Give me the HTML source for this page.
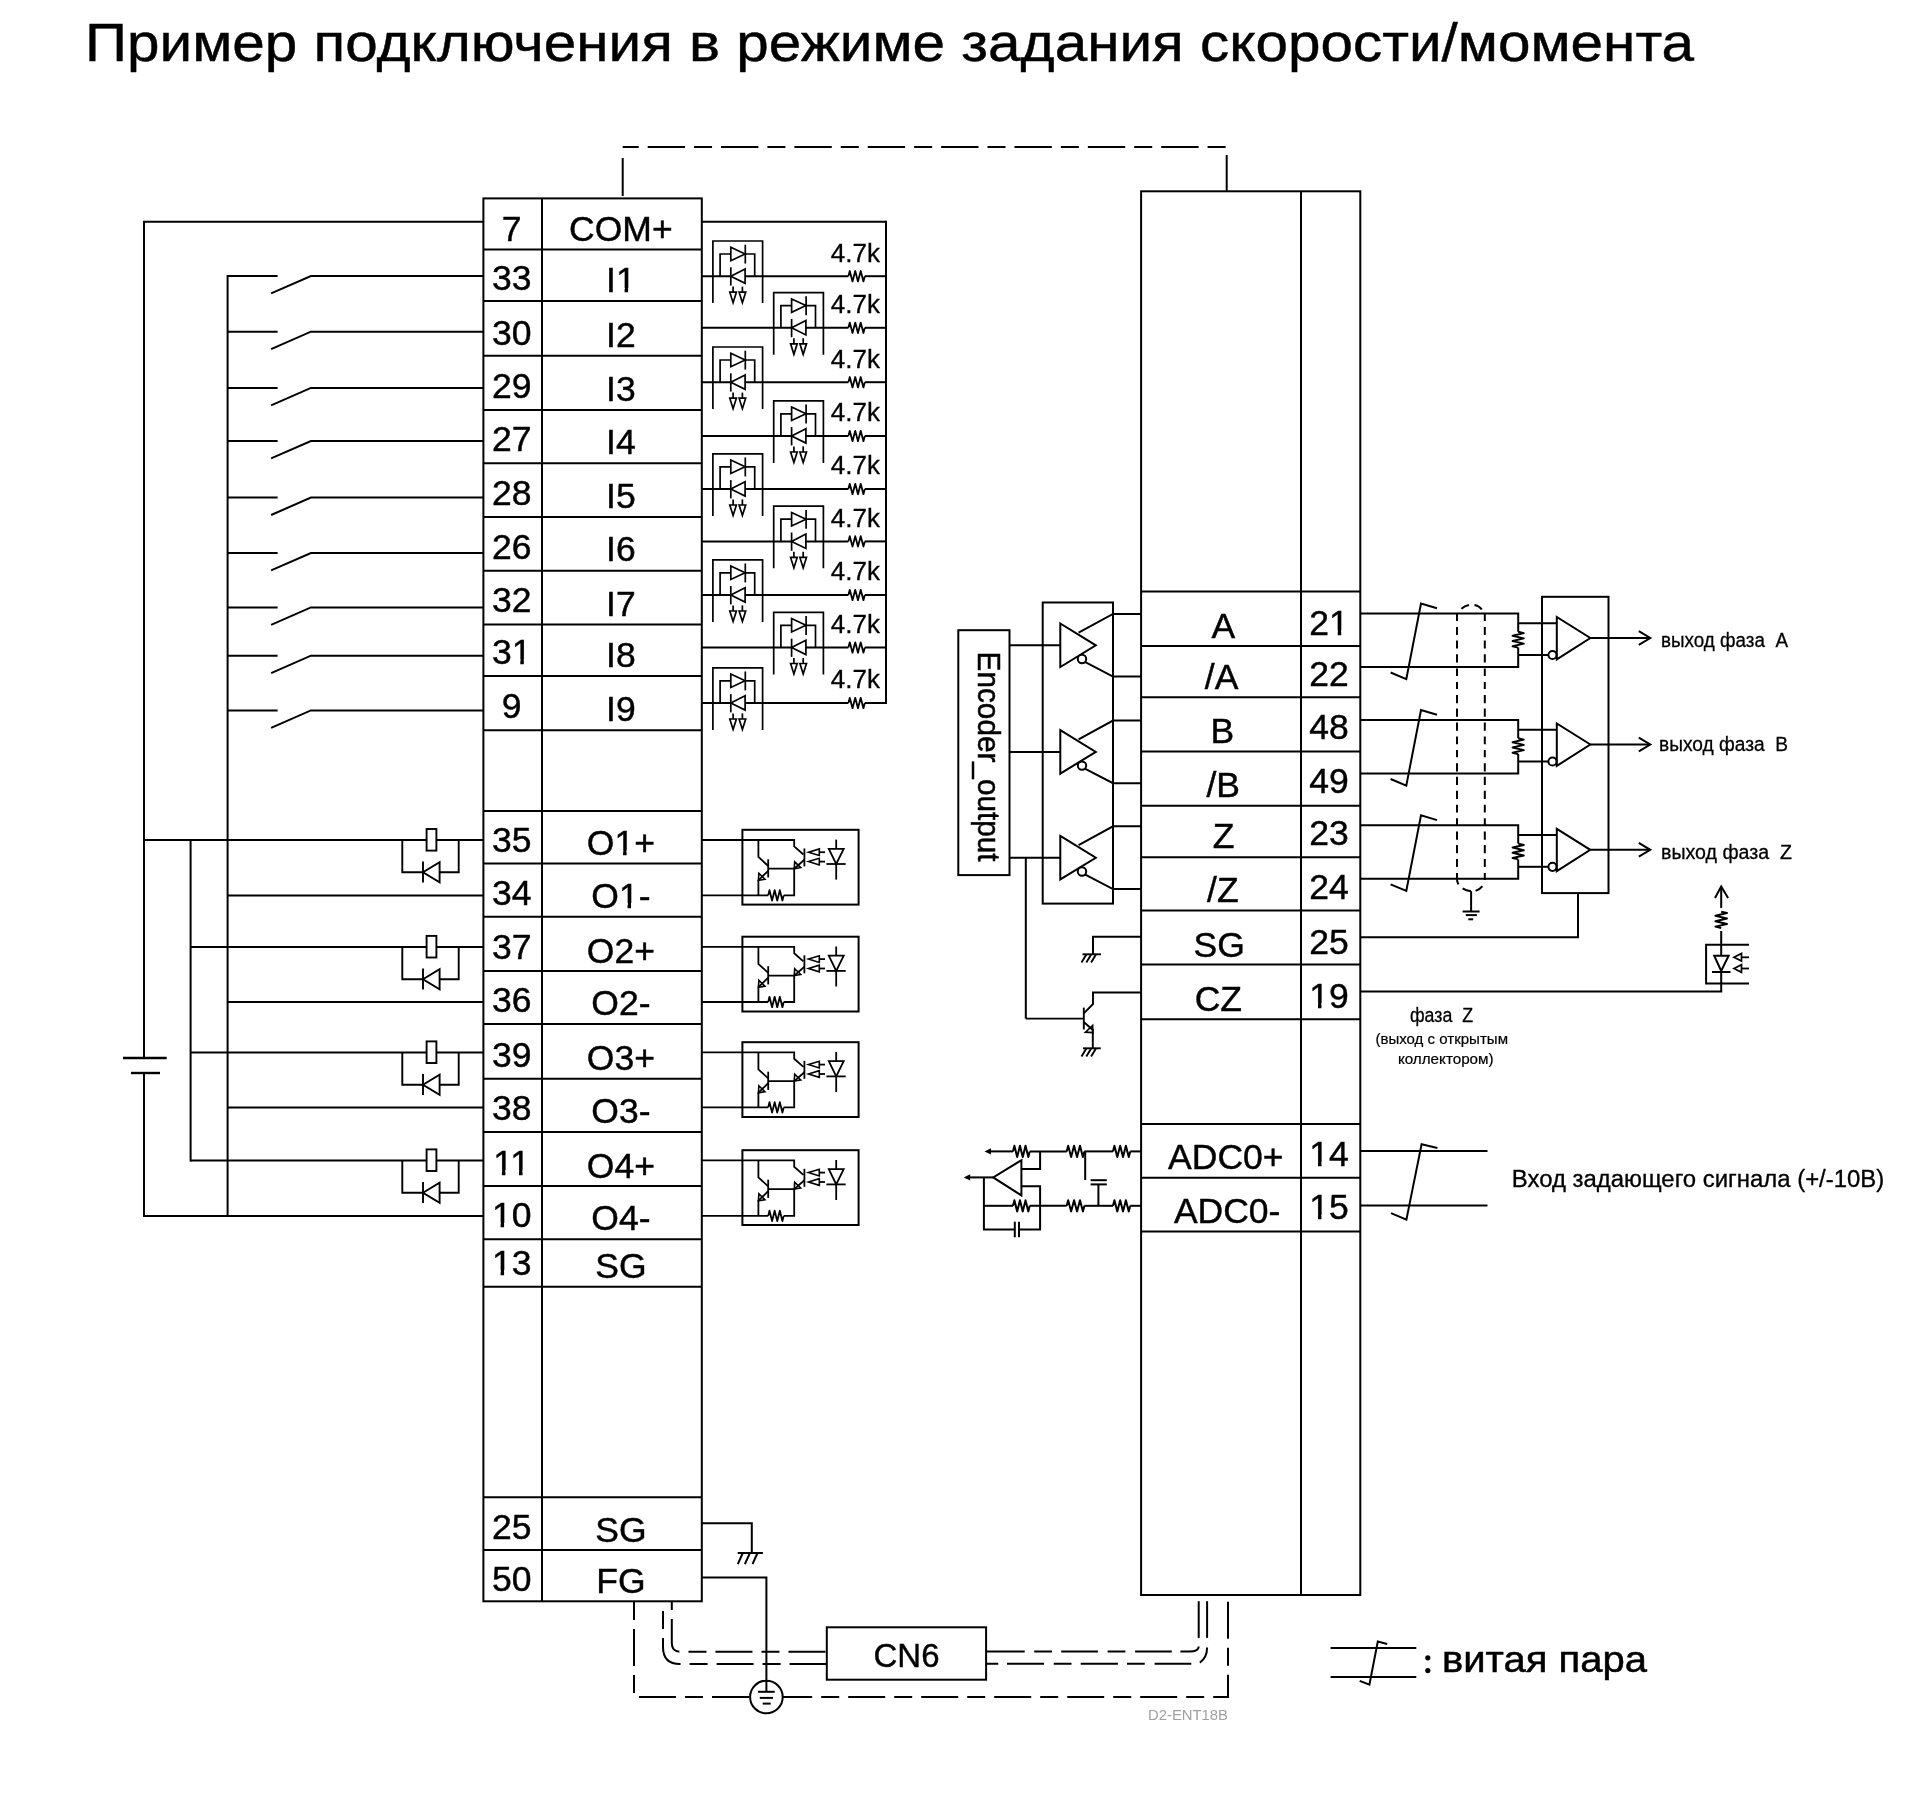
<!DOCTYPE html>
<html><head><meta charset="utf-8"><title>wiring</title>
<style>html,body{margin:0;padding:0;background:#fff;width:1920px;height:1794px;overflow:hidden}svg{display:block;will-change:transform}text{font-family:"Liberation Sans",sans-serif;fill:#000;stroke:#000}</style>
</head><body>
<svg width="1920" height="1794" viewBox="0 0 1920 1794">
<rect x="0" y="0" width="1920" height="1794" fill="#fff"/>
<g fill="none" stroke="#000" stroke-width="2" stroke-linecap="butt" stroke-linejoin="miter">
<text x="85" y="60.7" font-size="54" textLength="1609" lengthAdjust="spacingAndGlyphs" stroke-width="0.45">Пример подключения в режиме задания скорости/момента</text>
<path d="M 622.7 147.1 H 1225.8" stroke-width="2" stroke-dasharray="18 9 37.36 9" stroke-dashoffset="2"/>
<line x1="622.7" y1="158" x2="622.7" y2="196"/>
<line x1="1226.7" y1="155" x2="1226.7" y2="191"/>
<rect x="483.4" y="198.4" width="218.4" height="1402.9"/>
<line x1="542" y1="198.4" x2="542" y2="1601.3"/>
<line x1="483.4" y1="249.5" x2="701.8" y2="249.5"/>
<line x1="483.4" y1="301" x2="701.8" y2="301"/>
<line x1="483.4" y1="355.7" x2="701.8" y2="355.7"/>
<line x1="483.4" y1="410" x2="701.8" y2="410"/>
<line x1="483.4" y1="463.2" x2="701.8" y2="463.2"/>
<line x1="483.4" y1="517" x2="701.8" y2="517"/>
<line x1="483.4" y1="570.7" x2="701.8" y2="570.7"/>
<line x1="483.4" y1="624.4" x2="701.8" y2="624.4"/>
<line x1="483.4" y1="676" x2="701.8" y2="676"/>
<line x1="483.4" y1="730.3" x2="701.8" y2="730.3"/>
<line x1="483.4" y1="811" x2="701.8" y2="811"/>
<line x1="483.4" y1="863.5" x2="701.8" y2="863.5"/>
<line x1="483.4" y1="916.7" x2="701.8" y2="916.7"/>
<line x1="483.4" y1="971" x2="701.8" y2="971"/>
<line x1="483.4" y1="1024" x2="701.8" y2="1024"/>
<line x1="483.4" y1="1078.7" x2="701.8" y2="1078.7"/>
<line x1="483.4" y1="1131.9" x2="701.8" y2="1131.9"/>
<line x1="483.4" y1="1186" x2="701.8" y2="1186"/>
<line x1="483.4" y1="1239.2" x2="701.8" y2="1239.2"/>
<line x1="483.4" y1="1286.7" x2="701.8" y2="1286.7"/>
<line x1="483.4" y1="1497.3" x2="701.8" y2="1497.3"/>
<line x1="483.4" y1="1550.1" x2="701.8" y2="1550.1"/>
<text x="511.7" y="240.9" font-size="35.5" text-anchor="middle" stroke-width="0.43">7</text>
<text x="620.9" y="240.9" font-size="35.5" text-anchor="middle" stroke-width="0.43">COM+</text>
<text x="511.7" y="289.6" font-size="35.5" text-anchor="middle" stroke-width="0.43">33</text>
<text x="620.9" y="292.3" font-size="35.5" text-anchor="middle" stroke-width="0.43">I1</text>
<text x="511.7" y="344.6" font-size="35.5" text-anchor="middle" stroke-width="0.43">30</text>
<text x="620.9" y="346.9" font-size="35.5" text-anchor="middle" stroke-width="0.43">I2</text>
<text x="511.7" y="398.4" font-size="35.5" text-anchor="middle" stroke-width="0.43">29</text>
<text x="620.9" y="400.6" font-size="35.5" text-anchor="middle" stroke-width="0.43">I3</text>
<text x="511.7" y="451" font-size="35.5" text-anchor="middle" stroke-width="0.43">27</text>
<text x="620.9" y="454.4" font-size="35.5" text-anchor="middle" stroke-width="0.43">I4</text>
<text x="511.7" y="504.9" font-size="35.5" text-anchor="middle" stroke-width="0.43">28</text>
<text x="620.9" y="507.8" font-size="35.5" text-anchor="middle" stroke-width="0.43">I5</text>
<text x="511.7" y="558.6" font-size="35.5" text-anchor="middle" stroke-width="0.43">26</text>
<text x="620.9" y="560.9" font-size="35.5" text-anchor="middle" stroke-width="0.43">I6</text>
<text x="511.7" y="612.4" font-size="35.5" text-anchor="middle" stroke-width="0.43">32</text>
<text x="620.9" y="615.7" font-size="35.5" text-anchor="middle" stroke-width="0.43">I7</text>
<text x="511.7" y="663.9" font-size="35.5" text-anchor="middle" stroke-width="0.43">31</text>
<text x="620.9" y="666.8" font-size="35.5" text-anchor="middle" stroke-width="0.43">I8</text>
<text x="511.7" y="717.6" font-size="35.5" text-anchor="middle" stroke-width="0.43">9</text>
<text x="620.9" y="721" font-size="35.5" text-anchor="middle" stroke-width="0.43">I9</text>
<text x="511.7" y="852" font-size="35.5" text-anchor="middle" stroke-width="0.43">35</text>
<text x="620.9" y="855.2" font-size="35.5" text-anchor="middle" stroke-width="0.43">O1+</text>
<text x="511.7" y="904.8" font-size="35.5" text-anchor="middle" stroke-width="0.43">34</text>
<text x="620.9" y="907.9" font-size="35.5" text-anchor="middle" stroke-width="0.43">O1-</text>
<text x="511.7" y="959.4" font-size="35.5" text-anchor="middle" stroke-width="0.43">37</text>
<text x="620.9" y="962.5" font-size="35.5" text-anchor="middle" stroke-width="0.43">O2+</text>
<text x="511.7" y="1012" font-size="35.5" text-anchor="middle" stroke-width="0.43">36</text>
<text x="620.9" y="1015" font-size="35.5" text-anchor="middle" stroke-width="0.43">O2-</text>
<text x="511.7" y="1066.7" font-size="35.5" text-anchor="middle" stroke-width="0.43">39</text>
<text x="620.9" y="1069.8" font-size="35.5" text-anchor="middle" stroke-width="0.43">O3+</text>
<text x="511.7" y="1120" font-size="35.5" text-anchor="middle" stroke-width="0.43">38</text>
<text x="620.9" y="1122.6" font-size="35.5" text-anchor="middle" stroke-width="0.43">O3-</text>
<text x="511.7" y="1175.1" font-size="35.5" text-anchor="middle" stroke-width="0.43">11</text>
<text x="620.9" y="1177.7" font-size="35.5" text-anchor="middle" stroke-width="0.43">O4+</text>
<text x="511.7" y="1227.4" font-size="35.5" text-anchor="middle" stroke-width="0.43">10</text>
<text x="620.9" y="1230.3" font-size="35.5" text-anchor="middle" stroke-width="0.43">O4-</text>
<text x="511.7" y="1275.1" font-size="35.5" text-anchor="middle" stroke-width="0.43">13</text>
<text x="620.9" y="1278.3" font-size="35.5" text-anchor="middle" stroke-width="0.43">SG</text>
<text x="511.7" y="1538.9" font-size="35.5" text-anchor="middle" stroke-width="0.43">25</text>
<text x="620.9" y="1541.7" font-size="35.5" text-anchor="middle" stroke-width="0.43">SG</text>
<text x="511.7" y="1591" font-size="35.5" text-anchor="middle" stroke-width="0.43">50</text>
<text x="620.9" y="1593" font-size="35.5" text-anchor="middle" stroke-width="0.43">FG</text>
<line x1="227.6" y1="276" x2="277.6" y2="276"/>
<path d="M 271.1 293.4 L 310.9 276 H 483.4"/>
<line x1="227.6" y1="331.7" x2="277.6" y2="331.7"/>
<path d="M 271.1 349.1 L 310.9 331.7 H 483.4"/>
<line x1="227.6" y1="387.9" x2="277.6" y2="387.9"/>
<path d="M 271.1 405.3 L 310.9 387.9 H 483.4"/>
<line x1="227.6" y1="441" x2="277.6" y2="441"/>
<path d="M 271.1 458.4 L 310.9 441 H 483.4"/>
<line x1="227.6" y1="497.6" x2="277.6" y2="497.6"/>
<path d="M 271.1 515 L 310.9 497.6 H 483.4"/>
<line x1="227.6" y1="553" x2="277.6" y2="553"/>
<path d="M 271.1 570.4 L 310.9 553 H 483.4"/>
<line x1="227.6" y1="607.4" x2="277.6" y2="607.4"/>
<path d="M 271.1 624.8 L 310.9 607.4 H 483.4"/>
<line x1="227.6" y1="655.65" x2="277.6" y2="655.65"/>
<path d="M 271.1 673.05 L 310.9 655.65 H 483.4"/>
<line x1="227.6" y1="710.4" x2="277.6" y2="710.4"/>
<path d="M 271.1 727.8 L 310.9 710.4 H 483.4"/>
<line x1="227.6" y1="275" x2="227.6" y2="1216.9"/>
<path d="M 483.4 221.7 H 144 V 1058"/>
<path d="M 144 1073 V 1215.9 H 483.4"/>
<line x1="123" y1="1058" x2="166.7" y2="1058" stroke-width="2.4"/>
<line x1="131" y1="1073" x2="160" y2="1073" stroke-width="2.4"/>
<line x1="144" y1="840" x2="483.4" y2="840"/>
<line x1="227.6" y1="895.4" x2="483.4" y2="895.4"/>
<line x1="190.6" y1="946.9" x2="483.4" y2="946.9"/>
<line x1="227.6" y1="1002" x2="483.4" y2="1002"/>
<line x1="190.6" y1="1052.4" x2="483.4" y2="1052.4"/>
<line x1="227.6" y1="1107.4" x2="483.4" y2="1107.4"/>
<line x1="190.6" y1="1160.4" x2="483.4" y2="1160.4"/>
<line x1="190.6" y1="839" x2="190.6" y2="1161.4"/>
<path d="M 402.3 840 V 872.3 H 458.7 V 840" stroke-width="1.9"/>
<rect x="426.6" y="829" width="9.8" height="21.6" fill="#fff" stroke-width="1.9"/>
<path d="M 423 861.5 V 882.5" stroke-width="1.9"/>
<path d="M 423 872.3 L 439.6 862.3 V 882.3 Z" stroke-width="1.9" fill="#fff"/>
<path d="M 402.3 946.9 V 979.2 H 458.7 V 946.9" stroke-width="1.9"/>
<rect x="426.6" y="935.9" width="9.8" height="21.6" fill="#fff" stroke-width="1.9"/>
<path d="M 423 968.4 V 989.4" stroke-width="1.9"/>
<path d="M 423 979.2 L 439.6 969.2 V 989.2 Z" stroke-width="1.9" fill="#fff"/>
<path d="M 402.3 1052.4 V 1084.7 H 458.7 V 1052.4" stroke-width="1.9"/>
<rect x="426.6" y="1041.4" width="9.8" height="21.6" fill="#fff" stroke-width="1.9"/>
<path d="M 423 1073.9 V 1094.9" stroke-width="1.9"/>
<path d="M 423 1084.7 L 439.6 1074.7 V 1094.7 Z" stroke-width="1.9" fill="#fff"/>
<path d="M 402.3 1160.4 V 1192.7 H 458.7 V 1160.4" stroke-width="1.9"/>
<rect x="426.6" y="1149.4" width="9.8" height="21.6" fill="#fff" stroke-width="1.9"/>
<path d="M 423 1181.9 V 1202.9" stroke-width="1.9"/>
<path d="M 423 1192.7 L 439.6 1182.7 V 1202.7 Z" stroke-width="1.9" fill="#fff"/>
<line x1="701.8" y1="221.7" x2="886" y2="221.7"/>
<line x1="886" y1="220.7" x2="886" y2="704"/>
<line x1="701.8" y1="276.2" x2="848.4" y2="276.2"/>
<path d="M 848.4 276.2 L 849.77 271 L 852.5 281.4 L 855.23 271 L 857.97 281.4 L 860.7 271 L 863.43 281.4 L 864.8 276.2" stroke-width="1.8" fill="none" stroke-linejoin="round"/>
<line x1="864.8" y1="276.2" x2="886" y2="276.2"/>
<path d="M 712.9 303.1 V 241 H 762.6 V 303.1" stroke-width="1.7"/>
<path d="M 720.1 276.2 V 254 H 754.7 V 276.2" stroke-width="1.7"/>
<path d="M 730.8 247.3 L 745.1 254 L 730.8 260.7 Z" stroke-width="1.7" fill="#fff"/>
<path d="M 745.3 244.7 V 263.6" stroke-width="1.7"/>
<path d="M 745.1 268.9 L 730.8 276.2 L 745.1 283.3 Z" stroke-width="1.7" fill="#fff"/>
<path d="M 730.8 267.3 V 285.6" stroke-width="1.7"/>
<path d="M 733.1 286.6 V 292.2" stroke-width="1.7"/>
<path d="M 729.8 292.2 H 736.4 L 733.1 302.7 Z" stroke-width="1.7"/>
<path d="M 742.4 286.6 V 292.2" stroke-width="1.7"/>
<path d="M 739.1 292.2 H 745.7 L 742.4 302.7 Z" stroke-width="1.7"/>
<text x="880" y="261.6" font-size="26" text-anchor="end" stroke-width="0.31">4.7k</text>
<line x1="701.8" y1="327.8" x2="848.4" y2="327.8"/>
<path d="M 848.4 327.8 L 849.77 322.6 L 852.5 333 L 855.23 322.6 L 857.97 333 L 860.7 322.6 L 863.43 333 L 864.8 327.8" stroke-width="1.8" fill="none" stroke-linejoin="round"/>
<line x1="864.8" y1="327.8" x2="886" y2="327.8"/>
<path d="M 773.7 354.7 V 292.6 H 823.4 V 354.7" stroke-width="1.7"/>
<path d="M 780.9 327.8 V 305.6 H 815.5 V 327.8" stroke-width="1.7"/>
<path d="M 791.6 298.9 L 805.9 305.6 L 791.6 312.3 Z" stroke-width="1.7" fill="#fff"/>
<path d="M 806.1 296.3 V 315.2" stroke-width="1.7"/>
<path d="M 805.9 320.5 L 791.6 327.8 L 805.9 334.9 Z" stroke-width="1.7" fill="#fff"/>
<path d="M 791.6 318.9 V 337.2" stroke-width="1.7"/>
<path d="M 793.9 338.2 V 343.8" stroke-width="1.7"/>
<path d="M 790.6 343.8 H 797.2 L 793.9 354.3 Z" stroke-width="1.7"/>
<path d="M 803.2 338.2 V 343.8" stroke-width="1.7"/>
<path d="M 799.9 343.8 H 806.5 L 803.2 354.3 Z" stroke-width="1.7"/>
<text x="880" y="313.2" font-size="26" text-anchor="end" stroke-width="0.31">4.7k</text>
<line x1="701.8" y1="382.2" x2="848.4" y2="382.2"/>
<path d="M 848.4 382.2 L 849.77 377 L 852.5 387.4 L 855.23 377 L 857.97 387.4 L 860.7 377 L 863.43 387.4 L 864.8 382.2" stroke-width="1.8" fill="none" stroke-linejoin="round"/>
<line x1="864.8" y1="382.2" x2="886" y2="382.2"/>
<path d="M 712.9 409.1 V 347 H 762.6 V 409.1" stroke-width="1.7"/>
<path d="M 720.1 382.2 V 360 H 754.7 V 382.2" stroke-width="1.7"/>
<path d="M 730.8 353.3 L 745.1 360 L 730.8 366.7 Z" stroke-width="1.7" fill="#fff"/>
<path d="M 745.3 350.7 V 369.6" stroke-width="1.7"/>
<path d="M 745.1 374.9 L 730.8 382.2 L 745.1 389.3 Z" stroke-width="1.7" fill="#fff"/>
<path d="M 730.8 373.3 V 391.6" stroke-width="1.7"/>
<path d="M 733.1 392.6 V 398.2" stroke-width="1.7"/>
<path d="M 729.8 398.2 H 736.4 L 733.1 408.7 Z" stroke-width="1.7"/>
<path d="M 742.4 392.6 V 398.2" stroke-width="1.7"/>
<path d="M 739.1 398.2 H 745.7 L 742.4 408.7 Z" stroke-width="1.7"/>
<text x="880" y="367.6" font-size="26" text-anchor="end" stroke-width="0.31">4.7k</text>
<line x1="701.8" y1="436" x2="848.4" y2="436"/>
<path d="M 848.4 436 L 849.77 430.8 L 852.5 441.2 L 855.23 430.8 L 857.97 441.2 L 860.7 430.8 L 863.43 441.2 L 864.8 436" stroke-width="1.8" fill="none" stroke-linejoin="round"/>
<line x1="864.8" y1="436" x2="886" y2="436"/>
<path d="M 773.7 462.9 V 400.8 H 823.4 V 462.9" stroke-width="1.7"/>
<path d="M 780.9 436 V 413.8 H 815.5 V 436" stroke-width="1.7"/>
<path d="M 791.6 407.1 L 805.9 413.8 L 791.6 420.5 Z" stroke-width="1.7" fill="#fff"/>
<path d="M 806.1 404.5 V 423.4" stroke-width="1.7"/>
<path d="M 805.9 428.7 L 791.6 436 L 805.9 443.1 Z" stroke-width="1.7" fill="#fff"/>
<path d="M 791.6 427.1 V 445.4" stroke-width="1.7"/>
<path d="M 793.9 446.4 V 452" stroke-width="1.7"/>
<path d="M 790.6 452 H 797.2 L 793.9 462.5 Z" stroke-width="1.7"/>
<path d="M 803.2 446.4 V 452" stroke-width="1.7"/>
<path d="M 799.9 452 H 806.5 L 803.2 462.5 Z" stroke-width="1.7"/>
<text x="880" y="421.4" font-size="26" text-anchor="end" stroke-width="0.31">4.7k</text>
<line x1="701.8" y1="489" x2="848.4" y2="489"/>
<path d="M 848.4 489 L 849.77 483.8 L 852.5 494.2 L 855.23 483.8 L 857.97 494.2 L 860.7 483.8 L 863.43 494.2 L 864.8 489" stroke-width="1.8" fill="none" stroke-linejoin="round"/>
<line x1="864.8" y1="489" x2="886" y2="489"/>
<path d="M 712.9 515.9 V 453.8 H 762.6 V 515.9" stroke-width="1.7"/>
<path d="M 720.1 489 V 466.8 H 754.7 V 489" stroke-width="1.7"/>
<path d="M 730.8 460.1 L 745.1 466.8 L 730.8 473.5 Z" stroke-width="1.7" fill="#fff"/>
<path d="M 745.3 457.5 V 476.4" stroke-width="1.7"/>
<path d="M 745.1 481.7 L 730.8 489 L 745.1 496.1 Z" stroke-width="1.7" fill="#fff"/>
<path d="M 730.8 480.1 V 498.4" stroke-width="1.7"/>
<path d="M 733.1 499.4 V 505" stroke-width="1.7"/>
<path d="M 729.8 505 H 736.4 L 733.1 515.5 Z" stroke-width="1.7"/>
<path d="M 742.4 499.4 V 505" stroke-width="1.7"/>
<path d="M 739.1 505 H 745.7 L 742.4 515.5 Z" stroke-width="1.7"/>
<text x="880" y="474.4" font-size="26" text-anchor="end" stroke-width="0.31">4.7k</text>
<line x1="701.8" y1="541.4" x2="848.4" y2="541.4"/>
<path d="M 848.4 541.4 L 849.77 536.2 L 852.5 546.6 L 855.23 536.2 L 857.97 546.6 L 860.7 536.2 L 863.43 546.6 L 864.8 541.4" stroke-width="1.8" fill="none" stroke-linejoin="round"/>
<line x1="864.8" y1="541.4" x2="886" y2="541.4"/>
<path d="M 773.7 568.3 V 506.2 H 823.4 V 568.3" stroke-width="1.7"/>
<path d="M 780.9 541.4 V 519.2 H 815.5 V 541.4" stroke-width="1.7"/>
<path d="M 791.6 512.5 L 805.9 519.2 L 791.6 525.9 Z" stroke-width="1.7" fill="#fff"/>
<path d="M 806.1 509.9 V 528.8" stroke-width="1.7"/>
<path d="M 805.9 534.1 L 791.6 541.4 L 805.9 548.5 Z" stroke-width="1.7" fill="#fff"/>
<path d="M 791.6 532.5 V 550.8" stroke-width="1.7"/>
<path d="M 793.9 551.8 V 557.4" stroke-width="1.7"/>
<path d="M 790.6 557.4 H 797.2 L 793.9 567.9 Z" stroke-width="1.7"/>
<path d="M 803.2 551.8 V 557.4" stroke-width="1.7"/>
<path d="M 799.9 557.4 H 806.5 L 803.2 567.9 Z" stroke-width="1.7"/>
<text x="880" y="526.8" font-size="26" text-anchor="end" stroke-width="0.31">4.7k</text>
<line x1="701.8" y1="595" x2="848.4" y2="595"/>
<path d="M 848.4 595 L 849.77 589.8 L 852.5 600.2 L 855.23 589.8 L 857.97 600.2 L 860.7 589.8 L 863.43 600.2 L 864.8 595" stroke-width="1.8" fill="none" stroke-linejoin="round"/>
<line x1="864.8" y1="595" x2="886" y2="595"/>
<path d="M 712.9 621.9 V 559.8 H 762.6 V 621.9" stroke-width="1.7"/>
<path d="M 720.1 595 V 572.8 H 754.7 V 595" stroke-width="1.7"/>
<path d="M 730.8 566.1 L 745.1 572.8 L 730.8 579.5 Z" stroke-width="1.7" fill="#fff"/>
<path d="M 745.3 563.5 V 582.4" stroke-width="1.7"/>
<path d="M 745.1 587.7 L 730.8 595 L 745.1 602.1 Z" stroke-width="1.7" fill="#fff"/>
<path d="M 730.8 586.1 V 604.4" stroke-width="1.7"/>
<path d="M 733.1 605.4 V 611" stroke-width="1.7"/>
<path d="M 729.8 611 H 736.4 L 733.1 621.5 Z" stroke-width="1.7"/>
<path d="M 742.4 605.4 V 611" stroke-width="1.7"/>
<path d="M 739.1 611 H 745.7 L 742.4 621.5 Z" stroke-width="1.7"/>
<text x="880" y="580.4" font-size="26" text-anchor="end" stroke-width="0.31">4.7k</text>
<line x1="701.8" y1="647.5" x2="848.4" y2="647.5"/>
<path d="M 848.4 647.5 L 849.77 642.3 L 852.5 652.7 L 855.23 642.3 L 857.97 652.7 L 860.7 642.3 L 863.43 652.7 L 864.8 647.5" stroke-width="1.8" fill="none" stroke-linejoin="round"/>
<line x1="864.8" y1="647.5" x2="886" y2="647.5"/>
<path d="M 773.7 674.4 V 612.3 H 823.4 V 674.4" stroke-width="1.7"/>
<path d="M 780.9 647.5 V 625.3 H 815.5 V 647.5" stroke-width="1.7"/>
<path d="M 791.6 618.6 L 805.9 625.3 L 791.6 632 Z" stroke-width="1.7" fill="#fff"/>
<path d="M 806.1 616 V 634.9" stroke-width="1.7"/>
<path d="M 805.9 640.2 L 791.6 647.5 L 805.9 654.6 Z" stroke-width="1.7" fill="#fff"/>
<path d="M 791.6 638.6 V 656.9" stroke-width="1.7"/>
<path d="M 793.9 657.9 V 663.5" stroke-width="1.7"/>
<path d="M 790.6 663.5 H 797.2 L 793.9 674 Z" stroke-width="1.7"/>
<path d="M 803.2 657.9 V 663.5" stroke-width="1.7"/>
<path d="M 799.9 663.5 H 806.5 L 803.2 674 Z" stroke-width="1.7"/>
<text x="880" y="632.9" font-size="26" text-anchor="end" stroke-width="0.31">4.7k</text>
<line x1="701.8" y1="703" x2="848.4" y2="703"/>
<path d="M 848.4 703 L 849.77 697.8 L 852.5 708.2 L 855.23 697.8 L 857.97 708.2 L 860.7 697.8 L 863.43 708.2 L 864.8 703" stroke-width="1.8" fill="none" stroke-linejoin="round"/>
<line x1="864.8" y1="703" x2="886" y2="703"/>
<path d="M 712.9 729.9 V 667.8 H 762.6 V 729.9" stroke-width="1.7"/>
<path d="M 720.1 703 V 680.8 H 754.7 V 703" stroke-width="1.7"/>
<path d="M 730.8 674.1 L 745.1 680.8 L 730.8 687.5 Z" stroke-width="1.7" fill="#fff"/>
<path d="M 745.3 671.5 V 690.4" stroke-width="1.7"/>
<path d="M 745.1 695.7 L 730.8 703 L 745.1 710.1 Z" stroke-width="1.7" fill="#fff"/>
<path d="M 730.8 694.1 V 712.4" stroke-width="1.7"/>
<path d="M 733.1 713.4 V 719" stroke-width="1.7"/>
<path d="M 729.8 719 H 736.4 L 733.1 729.5 Z" stroke-width="1.7"/>
<path d="M 742.4 713.4 V 719" stroke-width="1.7"/>
<path d="M 739.1 719 H 745.7 L 742.4 729.5 Z" stroke-width="1.7"/>
<text x="880" y="688.4" font-size="26" text-anchor="end" stroke-width="0.31">4.7k</text>
<rect x="742.4" y="829.8" width="116.2" height="74.8" stroke-width="2"/>
<path d="M 701.8 840 H 794.2 V 846.4 L 803.4 854.5" stroke-width="1.8"/>
<path d="M 758.4 840 V 856.9 L 768.2 866" stroke-width="1.8"/>
<path d="M 768.2 859.3 V 877.5" stroke-width="1.8"/>
<path d="M 768.2 870.8 L 758.4 880.3 V 895.4" stroke-width="1.8"/>
<path d="M 758.4 880.3 L 758.9 873.3 L 764.9 879.3 Z" stroke-width="1.6"/>
<path d="M 804.4 848.4 V 866.4" stroke-width="1.8"/>
<path d="M 804.4 859.8 L 794.2 868.7" stroke-width="1.8"/>
<path d="M 794.2 868.7 L 794.7 861.8 L 800.7 867.6 Z" stroke-width="1.6"/>
<path d="M 768.2 868.7 H 794.2 V 895.4 H 783.7" stroke-width="1.8"/>
<path d="M 768.2 895.4 L 769.49 890.2 L 772.07 900.6 L 774.66 890.2 L 777.24 900.6 L 779.82 890.2 L 782.41 900.6 L 783.7 895.4" stroke-width="1.8" fill="none" stroke-linejoin="round"/>
<path d="M 768.2 895.4 H 701.8" stroke-width="1.8"/>
<path d="M 819.4 852.2 H 825" stroke-width="1.8"/>
<path d="M 808.5 852.2 L 819.3 848.9 V 855.5 Z" stroke-width="1.6"/>
<path d="M 819.4 861.6 H 825" stroke-width="1.8"/>
<path d="M 808.5 861.6 L 819.3 858.3 V 864.9 Z" stroke-width="1.6"/>
<path d="M 836.2 839.6 V 879.6" stroke-width="1.8"/>
<path d="M 828.8 848.8 H 843.7 L 836.2 864 Z" stroke-width="1.8" fill="#fff"/>
<path d="M 826.4 864 H 845.7" stroke-width="1.8"/>
<rect x="742.4" y="936.7" width="116.2" height="74.8" stroke-width="2"/>
<path d="M 701.8 946.9 H 794.2 V 953.3 L 803.4 961.4" stroke-width="1.8"/>
<path d="M 758.4 946.9 V 963.8 L 768.2 972.9" stroke-width="1.8"/>
<path d="M 768.2 966.2 V 984.4" stroke-width="1.8"/>
<path d="M 768.2 977.7 L 758.4 987.2 V 1002" stroke-width="1.8"/>
<path d="M 758.4 987.2 L 758.9 980.2 L 764.9 986.2 Z" stroke-width="1.6"/>
<path d="M 804.4 955.3 V 973.3" stroke-width="1.8"/>
<path d="M 804.4 966.7 L 794.2 975.6" stroke-width="1.8"/>
<path d="M 794.2 975.6 L 794.7 968.7 L 800.7 974.5 Z" stroke-width="1.6"/>
<path d="M 768.2 975.6 H 794.2 V 1002 H 783.7" stroke-width="1.8"/>
<path d="M 768.2 1002 L 769.49 996.8 L 772.07 1007.2 L 774.66 996.8 L 777.24 1007.2 L 779.82 996.8 L 782.41 1007.2 L 783.7 1002" stroke-width="1.8" fill="none" stroke-linejoin="round"/>
<path d="M 768.2 1002 H 701.8" stroke-width="1.8"/>
<path d="M 819.4 959.1 H 825" stroke-width="1.8"/>
<path d="M 808.5 959.1 L 819.3 955.8 V 962.4 Z" stroke-width="1.6"/>
<path d="M 819.4 968.5 H 825" stroke-width="1.8"/>
<path d="M 808.5 968.5 L 819.3 965.2 V 971.8 Z" stroke-width="1.6"/>
<path d="M 836.2 946.5 V 986.5" stroke-width="1.8"/>
<path d="M 828.8 955.7 H 843.7 L 836.2 970.9 Z" stroke-width="1.8" fill="#fff"/>
<path d="M 826.4 970.9 H 845.7" stroke-width="1.8"/>
<rect x="742.4" y="1042.2" width="116.2" height="74.8" stroke-width="2"/>
<path d="M 701.8 1052.4 H 794.2 V 1058.8 L 803.4 1066.9" stroke-width="1.8"/>
<path d="M 758.4 1052.4 V 1069.3 L 768.2 1078.4" stroke-width="1.8"/>
<path d="M 768.2 1071.7 V 1089.9" stroke-width="1.8"/>
<path d="M 768.2 1083.2 L 758.4 1092.7 V 1107.4" stroke-width="1.8"/>
<path d="M 758.4 1092.7 L 758.9 1085.7 L 764.9 1091.7 Z" stroke-width="1.6"/>
<path d="M 804.4 1060.8 V 1078.8" stroke-width="1.8"/>
<path d="M 804.4 1072.2 L 794.2 1081.1" stroke-width="1.8"/>
<path d="M 794.2 1081.1 L 794.7 1074.2 L 800.7 1080 Z" stroke-width="1.6"/>
<path d="M 768.2 1081.1 H 794.2 V 1107.4 H 783.7" stroke-width="1.8"/>
<path d="M 768.2 1107.4 L 769.49 1102.2 L 772.07 1112.6 L 774.66 1102.2 L 777.24 1112.6 L 779.82 1102.2 L 782.41 1112.6 L 783.7 1107.4" stroke-width="1.8" fill="none" stroke-linejoin="round"/>
<path d="M 768.2 1107.4 H 701.8" stroke-width="1.8"/>
<path d="M 819.4 1064.6 H 825" stroke-width="1.8"/>
<path d="M 808.5 1064.6 L 819.3 1061.3 V 1067.9 Z" stroke-width="1.6"/>
<path d="M 819.4 1074 H 825" stroke-width="1.8"/>
<path d="M 808.5 1074 L 819.3 1070.7 V 1077.3 Z" stroke-width="1.6"/>
<path d="M 836.2 1052 V 1092" stroke-width="1.8"/>
<path d="M 828.8 1061.2 H 843.7 L 836.2 1076.4 Z" stroke-width="1.8" fill="#fff"/>
<path d="M 826.4 1076.4 H 845.7" stroke-width="1.8"/>
<rect x="742.4" y="1150.2" width="116.2" height="74.8" stroke-width="2"/>
<path d="M 701.8 1160.4 H 794.2 V 1166.8 L 803.4 1174.9" stroke-width="1.8"/>
<path d="M 758.4 1160.4 V 1177.3 L 768.2 1186.4" stroke-width="1.8"/>
<path d="M 768.2 1179.7 V 1197.9" stroke-width="1.8"/>
<path d="M 768.2 1191.2 L 758.4 1200.7 V 1215.9" stroke-width="1.8"/>
<path d="M 758.4 1200.7 L 758.9 1193.7 L 764.9 1199.7 Z" stroke-width="1.6"/>
<path d="M 804.4 1168.8 V 1186.8" stroke-width="1.8"/>
<path d="M 804.4 1180.2 L 794.2 1189.1" stroke-width="1.8"/>
<path d="M 794.2 1189.1 L 794.7 1182.2 L 800.7 1188 Z" stroke-width="1.6"/>
<path d="M 768.2 1189.1 H 794.2 V 1215.9 H 783.7" stroke-width="1.8"/>
<path d="M 768.2 1215.9 L 769.49 1210.7 L 772.07 1221.1 L 774.66 1210.7 L 777.24 1221.1 L 779.82 1210.7 L 782.41 1221.1 L 783.7 1215.9" stroke-width="1.8" fill="none" stroke-linejoin="round"/>
<path d="M 768.2 1215.9 H 701.8" stroke-width="1.8"/>
<path d="M 819.4 1172.6 H 825" stroke-width="1.8"/>
<path d="M 808.5 1172.6 L 819.3 1169.3 V 1175.9 Z" stroke-width="1.6"/>
<path d="M 819.4 1182 H 825" stroke-width="1.8"/>
<path d="M 808.5 1182 L 819.3 1178.7 V 1185.3 Z" stroke-width="1.6"/>
<path d="M 836.2 1160 V 1200" stroke-width="1.8"/>
<path d="M 828.8 1169.2 H 843.7 L 836.2 1184.4 Z" stroke-width="1.8" fill="#fff"/>
<path d="M 826.4 1184.4 H 845.7" stroke-width="1.8"/>
<path d="M 701.8 1523.2 H 751.8 V 1553"/>
<path d="M 737.7 1553 H 762.9" stroke-width="2"/>
<path d="M 742.8 1553 L 737.8 1564.2" stroke-width="2"/>
<path d="M 749.9 1553 L 744.9 1564.2" stroke-width="2"/>
<path d="M 757.5 1553 L 752.5 1564.2" stroke-width="2"/>
<path d="M 701.8 1577.6 H 766.4 V 1692"/>
<circle cx="766.4" cy="1697" r="16.3" stroke-width="2"/>
<line x1="758" y1="1691.8" x2="774.7" y2="1691.8"/>
<line x1="759.8" y1="1697.9" x2="773" y2="1697.9"/>
<line x1="762.7" y1="1703.6" x2="770.7" y2="1703.6"/>
<path d="M 634 1602 V 1697 H 750" stroke-width="2" stroke-dasharray="18 9 37 9"/>
<path d="M 782.7 1697 H 1228 V 1601" stroke-width="2" stroke-dasharray="37 9 18 9" stroke-dashoffset="7.5"/>
<path d="M 671.8 1602 V 1643 Q 671.8 1651.7 680.5 1651.7 H 826.8" stroke-width="2" stroke-dasharray="18 9 37 9" stroke-dashoffset="10"/>
<path d="M 663 1602 V 1647 Q 663 1664 680 1664 H 826.8" stroke-width="2" stroke-dasharray="18 9 37 9" stroke-dashoffset="64"/>
<rect x="826.8" y="1627.3" width="159.3" height="52.4" stroke-width="2"/>
<text x="906.5" y="1667" font-size="33" text-anchor="middle" stroke-width="0.4">CN6</text>
<line x1="1198.7" y1="1601.2" x2="1198.7" y2="1637.9"/>
<path d="M 1198.7 1646.5 C 1198.7 1649.6 1195.2 1651.6 1189.5 1651.6 H 1180.4" stroke-width="2"/>
<path d="M 1171.8 1651.6 H 986.1" stroke-width="2" stroke-dasharray="36.7 9.7 17.8 9.7 36.7 9.2 17.8 9.5 40"/>
<line x1="1207.1" y1="1601.2" x2="1207.1" y2="1637.9"/>
<path d="M 1207.1 1647.6 C 1207.1 1654.5 1204.5 1659.5 1199.85 1662.6" stroke-width="2"/>
<path d="M 1191.3 1663.8 H 986.1" stroke-width="2" stroke-dasharray="36.7 9.85 17.75 9.1 37.2 9.2 17.75 9.75 37 8.7 20"/>
<text x="1148" y="1720.4" font-size="15" textLength="80" lengthAdjust="spacingAndGlyphs" style="fill:#a0a0a0;stroke:none">D2-ENT18B</text>
<line x1="1330.6" y1="1648.1" x2="1416.3" y2="1648.1"/>
<line x1="1330.6" y1="1676.9" x2="1416.3" y2="1676.9"/>
<path d="M 1387.2 1644 L 1377.8 1641.6 L 1369.4 1684.7 L 1359.7 1680.9" stroke-width="2"/>
<circle cx="1427.8" cy="1657.8" r="2.6" fill="#000" stroke="none"/>
<circle cx="1427.8" cy="1670.6" r="2.6" fill="#000" stroke="none"/>
<text x="1442" y="1672" font-size="36" textLength="205" lengthAdjust="spacingAndGlyphs" stroke-width="0.5">витая пара</text>
<rect x="1141.1" y="191.3" width="219.2" height="1403.7"/>
<line x1="1301" y1="191.3" x2="1301" y2="1595"/>
<line x1="1141.1" y1="591.5" x2="1360.3" y2="591.5"/>
<line x1="1141.1" y1="646" x2="1360.3" y2="646"/>
<line x1="1141.1" y1="697.3" x2="1360.3" y2="697.3"/>
<line x1="1141.1" y1="751.4" x2="1360.3" y2="751.4"/>
<line x1="1141.1" y1="805.7" x2="1360.3" y2="805.7"/>
<line x1="1141.1" y1="857.3" x2="1360.3" y2="857.3"/>
<line x1="1141.1" y1="910.5" x2="1360.3" y2="910.5"/>
<line x1="1141.1" y1="964.6" x2="1360.3" y2="964.6"/>
<line x1="1141.1" y1="1019.3" x2="1360.3" y2="1019.3"/>
<line x1="1141.1" y1="1124" x2="1360.3" y2="1124"/>
<line x1="1141.1" y1="1177.7" x2="1360.3" y2="1177.7"/>
<line x1="1141.1" y1="1231.4" x2="1360.3" y2="1231.4"/>
<text x="1223.3" y="638" font-size="35.5" text-anchor="middle" stroke-width="0.43">A</text>
<text x="1329.1" y="635" font-size="35.5" text-anchor="middle" stroke-width="0.43">21</text>
<text x="1221.6" y="688.9" font-size="35.5" text-anchor="middle" stroke-width="0.43">/A</text>
<text x="1329.1" y="685.9" font-size="35.5" text-anchor="middle" stroke-width="0.43">22</text>
<text x="1222.4" y="742.7" font-size="35.5" text-anchor="middle" stroke-width="0.43">B</text>
<text x="1329.1" y="739.3" font-size="35.5" text-anchor="middle" stroke-width="0.43">48</text>
<text x="1223.2" y="796.6" font-size="35.5" text-anchor="middle" stroke-width="0.43">/B</text>
<text x="1329.1" y="793.1" font-size="35.5" text-anchor="middle" stroke-width="0.43">49</text>
<text x="1223.5" y="847.7" font-size="35.5" text-anchor="middle" stroke-width="0.43">Z</text>
<text x="1329.1" y="844.7" font-size="35.5" text-anchor="middle" stroke-width="0.43">23</text>
<text x="1222.9" y="902" font-size="35.5" text-anchor="middle" stroke-width="0.43">/Z</text>
<text x="1329.1" y="899" font-size="35.5" text-anchor="middle" stroke-width="0.43">24</text>
<text x="1219.2" y="956.7" font-size="35.5" text-anchor="middle" stroke-width="0.43">SG</text>
<text x="1329.1" y="953.9" font-size="35.5" text-anchor="middle" stroke-width="0.43">25</text>
<text x="1218.3" y="1010.6" font-size="35.5" text-anchor="middle" stroke-width="0.43">CZ</text>
<text x="1329.1" y="1007.5" font-size="35.5" text-anchor="middle" stroke-width="0.43">19</text>
<text x="1225.8" y="1168.8" font-size="35.5" text-anchor="middle" stroke-width="0.43">ADC0+</text>
<text x="1329.1" y="1166.4" font-size="35.5" text-anchor="middle" stroke-width="0.43">14</text>
<text x="1227.2" y="1222.5" font-size="35.5" text-anchor="middle" stroke-width="0.43">ADC0-</text>
<text x="1329.1" y="1219.4" font-size="35.5" text-anchor="middle" stroke-width="0.43">15</text>
<rect x="958.3" y="630.2" width="51.2" height="244.9"/>
<text x="0" y="0" font-size="31" textLength="210" lengthAdjust="spacingAndGlyphs" stroke-width="0.5" transform="translate(977.6 651.6) rotate(90)">Encoder_output</text>
<rect x="1042.7" y="602.5" width="70.3" height="301.1"/>
<line x1="1009.5" y1="645.3" x2="1060.3" y2="645.3"/>
<path d="M 1060.3 623.5 L 1095.8 645.3 L 1060.3 667 Z" stroke-width="2"/>
<circle cx="1082" cy="659" r="4.2" fill="#fff" stroke-width="2"/>
<path d="M 1078.6 632.7 L 1113 613.9 H 1141.1"/>
<path d="M 1085.3 662.2 L 1113 676.6 H 1141.1"/>
<line x1="1009.5" y1="751.9" x2="1060.3" y2="751.9"/>
<path d="M 1060.3 730.1 L 1095.8 751.9 L 1060.3 773.6 Z" stroke-width="2"/>
<circle cx="1082" cy="765.6" r="4.2" fill="#fff" stroke-width="2"/>
<path d="M 1078.6 739.3 L 1113 720.5 H 1141.1"/>
<path d="M 1085.3 768.8 L 1113 783.2 H 1141.1"/>
<line x1="1009.5" y1="857.75" x2="1060.3" y2="857.75"/>
<path d="M 1060.3 835.95 L 1095.8 857.75 L 1060.3 879.45 Z" stroke-width="2"/>
<circle cx="1082" cy="871.45" r="4.2" fill="#fff" stroke-width="2"/>
<path d="M 1078.6 845.15 L 1113 826.35 H 1141.1"/>
<path d="M 1085.3 874.65 L 1113 889.05 H 1141.1"/>
<line x1="1025.8" y1="857.75" x2="1025.8" y2="1018.6"/>
<path d="M 1141.1 936.7 H 1093 V 954.3"/>
<path d="M 1082.5 954.3 H 1101" stroke-width="1.9"/>
<path d="M 1086.5 954.3 L 1081.5 962.5" stroke-width="1.9"/>
<path d="M 1091.3 954.3 L 1086.3 962.5" stroke-width="1.9"/>
<path d="M 1096.1 954.3 L 1091.1 962.5" stroke-width="1.9"/>
<path d="M 1141.1 992.5 H 1093 V 1004 L 1083.8 1013.4" stroke-width="1.9"/>
<line x1="1083.8" y1="1007.6" x2="1083.8" y2="1029.5" stroke-width="1.9"/>
<path d="M 1025.8 1018.6 H 1083.8" stroke-width="1.9"/>
<path d="M 1083.8 1022 L 1092.8 1030 V 1048.3" stroke-width="1.9"/>
<path d="M 1092.6 1025.5 L 1085.5 1032.2 L 1092.8 1032.6 Z" stroke-width="1.7"/>
<path d="M 1083 1048.3 H 1100.7" stroke-width="1.9"/>
<path d="M 1086.5 1048.3 L 1081.5 1056.5" stroke-width="1.9"/>
<path d="M 1091.3 1048.3 L 1086.3 1056.5" stroke-width="1.9"/>
<path d="M 1096.1 1048.3 L 1091.1 1056.5" stroke-width="1.9"/>
<path d="M 1141.1 1151.4 H 1130.2"/>
<path d="M 1113 1151.4 L 1114.43 1145.8 L 1117.3 1157 L 1120.17 1145.8 L 1123.03 1157 L 1125.9 1145.8 L 1128.77 1157 L 1130.2 1151.4" stroke-width="2" fill="none" stroke-linejoin="round"/>
<path d="M 1113 1151.4 H 1084.4"/>
<path d="M 1066.7 1151.4 L 1068.17 1145.8 L 1071.12 1157 L 1074.08 1145.8 L 1077.03 1157 L 1079.98 1145.8 L 1082.93 1157 L 1084.4 1151.4" stroke-width="2" fill="none" stroke-linejoin="round"/>
<path d="M 1066.7 1151.4 H 1029.7"/>
<path d="M 1013 1151.4 L 1014.39 1145.8 L 1017.17 1157 L 1019.96 1145.8 L 1022.74 1157 L 1025.53 1145.8 L 1028.31 1157 L 1029.7 1151.4" stroke-width="2" fill="none" stroke-linejoin="round"/>
<path d="M 1013 1151.4 H 990"/>
<path d="M 984.5 1151.4 L 991 1148.2 V 1154.6 Z" stroke-width="0" fill="#000" stroke="none"/>
<path d="M 1141.1 1205.8 H 1130.2"/>
<path d="M 1113 1205.8 L 1114.43 1200.2 L 1117.3 1211.4 L 1120.17 1200.2 L 1123.03 1211.4 L 1125.9 1200.2 L 1128.77 1211.4 L 1130.2 1205.8" stroke-width="2" fill="none" stroke-linejoin="round"/>
<path d="M 1113 1205.8 H 1084.4"/>
<path d="M 1066.7 1205.8 L 1068.17 1200.2 L 1071.12 1211.4 L 1074.08 1200.2 L 1077.03 1211.4 L 1079.98 1200.2 L 1082.93 1211.4 L 1084.4 1205.8" stroke-width="2" fill="none" stroke-linejoin="round"/>
<path d="M 1066.7 1205.8 H 1029.7"/>
<path d="M 1013 1205.8 L 1014.39 1200.2 L 1017.17 1211.4 L 1019.96 1200.2 L 1022.74 1211.4 L 1025.53 1200.2 L 1028.31 1211.4 L 1029.7 1205.8" stroke-width="2" fill="none" stroke-linejoin="round"/>
<path d="M 1013 1205.8 H 983.9"/>
<path d="M 1040.1 1151.4 V 1169 H 1021.4"/>
<path d="M 1021.4 1186.25 H 1040.1 V 1229.5 H 1019"/>
<path d="M 1014.8 1229.5 H 983.9 V 1177.4"/>
<line x1="1014.8" y1="1221.7" x2="1014.8" y2="1237.3"/>
<line x1="1019" y1="1221.7" x2="1019" y2="1237.3"/>
<path d="M 1021.4 1160.2 V 1195.4 L 993.2 1177.4 Z" stroke-width="2"/>
<path d="M 993.2 1177.4 H 970"/>
<path d="M 963.7 1177.4 L 970.2 1174.2 V 1180.6 Z" stroke-width="0" fill="#000" stroke="none"/>
<path d="M 1085.2 1151.4 V 1180"/>
<line x1="1090.6" y1="1180.2" x2="1106.8" y2="1180.2"/>
<line x1="1090.6" y1="1184.4" x2="1106.8" y2="1184.4"/>
<path d="M 1098.4 1184.4 V 1205.8"/>
<rect x="1542" y="596.8" width="66.5" height="296.3"/>
<path d="M 1360.3 613.5 H 1518.2 V 631.8"/>
<path d="M 1518.2 647.6 V 667 H 1360.3"/>
<path d="M 1518.2 631.8 L 1523.8 633.12 L 1512.6 635.75 L 1523.8 638.38 L 1512.6 641.02 L 1523.8 643.65 L 1512.6 646.28 L 1518.2 647.6" stroke-width="2" fill="none" stroke-linejoin="round"/>
<path d="M 1518.2 623.2 H 1556.8"/>
<path d="M 1518.2 655 H 1548.3"/>
<circle cx="1552.5" cy="655" r="4.1" fill="#fff" stroke-width="2"/>
<path d="M 1556.8 617 V 659.4 L 1590.3 638 Z" stroke-width="2" fill="none"/>
<path d="M 1590.3 638 H 1650"/>
<path d="M 1638.8 631.1 L 1650.3 638 L 1638.8 644.9" stroke-width="2"/>
<path d="M 1437 608.3 L 1421 603.5 L 1406.3 679.1 L 1390.6 672.5" stroke-width="2"/>
<path d="M 1360.3 720 H 1518.2 V 738.3"/>
<path d="M 1518.2 754.1 V 773.5 H 1360.3"/>
<path d="M 1518.2 738.3 L 1523.8 739.62 L 1512.6 742.25 L 1523.8 744.88 L 1512.6 747.52 L 1523.8 750.15 L 1512.6 752.78 L 1518.2 754.1" stroke-width="2" fill="none" stroke-linejoin="round"/>
<path d="M 1518.2 729.7 H 1556.8"/>
<path d="M 1518.2 761.5 H 1548.3"/>
<circle cx="1552.5" cy="761.5" r="4.1" fill="#fff" stroke-width="2"/>
<path d="M 1556.8 723.5 V 765.9 L 1590.3 744.5 Z" stroke-width="2" fill="none"/>
<path d="M 1590.3 744.5 H 1650"/>
<path d="M 1638.8 737.6 L 1650.3 744.5 L 1638.8 751.4" stroke-width="2"/>
<path d="M 1437 714.8 L 1421 710 L 1406.3 785.6 L 1390.6 779" stroke-width="2"/>
<path d="M 1360.3 825.3 H 1518.2 V 843.6"/>
<path d="M 1518.2 859.4 V 878.8 H 1360.3"/>
<path d="M 1518.2 843.6 L 1523.8 844.92 L 1512.6 847.55 L 1523.8 850.18 L 1512.6 852.82 L 1523.8 855.45 L 1512.6 858.08 L 1518.2 859.4" stroke-width="2" fill="none" stroke-linejoin="round"/>
<path d="M 1518.2 835 H 1556.8"/>
<path d="M 1518.2 866.8 H 1548.3"/>
<circle cx="1552.5" cy="866.8" r="4.1" fill="#fff" stroke-width="2"/>
<path d="M 1556.8 828.8 V 871.2 L 1590.3 849.8 Z" stroke-width="2" fill="none"/>
<path d="M 1590.3 849.8 H 1650"/>
<path d="M 1638.8 842.9 L 1650.3 849.8 L 1638.8 856.7" stroke-width="2"/>
<path d="M 1437 820.1 L 1421 815.3 L 1406.3 890.9 L 1390.6 884.3" stroke-width="2"/>
<path d="M 1457 613.7 V 880" stroke-width="2" stroke-dasharray="7.2 6 8.2 5.3 8.2 5.7 8.2 5.9 7.6 5.9"/>
<path d="M 1484.8 613.7 V 880" stroke-width="2" stroke-dasharray="7.2 6 8.2 5.3 8.2 5.7 8.2 5.9 7.6 5.9"/>
<path d="M 1461.4 608.8 Q 1464.5 605.6 1469 604.9" stroke-width="2"/>
<path d="M 1474.5 604.9 Q 1479 605.6 1481.8 609.5" stroke-width="2"/>
<path d="M 1457 879.9 Q 1457.3 882.5 1458.6 884.4" stroke-width="2"/>
<path d="M 1462.6 888.4 Q 1466 890.6 1471.1 891.2" stroke-width="2"/>
<path d="M 1475.6 890.9 Q 1480 889.5 1482.4 886.2" stroke-width="2"/>
<path d="M 1471.1 891.2 V 911.5" stroke-width="2"/>
<line x1="1462.6" y1="911.5" x2="1479.6" y2="911.5"/>
<line x1="1465.8" y1="915.1" x2="1476.9" y2="915.1"/>
<line x1="1468.3" y1="919.3" x2="1473.1" y2="919.3"/>
<text x="1661" y="646.9" font-size="20" textLength="127" lengthAdjust="spacingAndGlyphs" stroke-width="0.28">выход фаза&#160; A</text>
<text x="1659" y="751.3" font-size="20" textLength="129" lengthAdjust="spacingAndGlyphs" stroke-width="0.28">выход фаза&#160; B</text>
<text x="1661" y="858.8" font-size="20" textLength="131" lengthAdjust="spacingAndGlyphs" stroke-width="0.28">выход фаза&#160; Z</text>
<path d="M 1360.3 937.2 H 1578 V 893.1"/>
<path d="M 1360.3 991.6 H 1721.2 V 886.6" stroke-width="2"/>
<path d="M 1715 898 L 1721.2 886.6 L 1728.1 898" stroke-width="2"/>
<rect x="1712" y="908" width="19" height="23" fill="#fff" stroke="none"/>
<path d="M 1721.2 911.7 L 1727 913.06 L 1715.4 915.78 L 1727 918.49 L 1715.4 921.21 L 1727 923.92 L 1715.4 926.64 L 1721.2 928" stroke-width="2" fill="none" stroke-linejoin="round"/>
<path d="M 1749 944.8 H 1706.1 V 983.5 H 1749" stroke-width="2"/>
<path d="M 1714.2 955.7 H 1728.6 L 1721.2 971 Z" stroke-width="2" fill="#fff"/>
<line x1="1712" y1="972" x2="1730.5" y2="972"/>
<path d="M 1741 957.3 H 1749" stroke-width="1.8"/>
<path d="M 1734 957.3 L 1741.5 953.5 V 961.1 Z" stroke-width="1.7"/>
<path d="M 1741 968.5 H 1749" stroke-width="1.8"/>
<path d="M 1734 968.5 L 1741.5 964.7 V 972.3 Z" stroke-width="1.7"/>
<text x="1410" y="1021.8" font-size="20" textLength="63" lengthAdjust="spacingAndGlyphs" stroke-width="0.28">фаза&#160; Z</text>
<text x="1375.4" y="1043.8" font-size="15" textLength="132.6" lengthAdjust="spacingAndGlyphs" stroke-width="0.21">(выход с открытым</text>
<text x="1397.9" y="1063.5" font-size="15" textLength="95.7" lengthAdjust="spacingAndGlyphs" stroke-width="0.21">коллектором)</text>
<path d="M 1360.3 1150.9 H 1487.5"/>
<path d="M 1360.3 1205.4 H 1487.5"/>
<path d="M 1437.4 1148 L 1421.6 1144.3 L 1406.4 1219.7 L 1391 1213.1" stroke-width="2"/>
<text x="1511.8" y="1186.5" font-size="23" textLength="372.4" lengthAdjust="spacingAndGlyphs" stroke-width="0.32">Вход задающего сигнала (+/-10В)</text>
<rect x="617" y="288" width="7.58" height="7" fill="#fff" stroke="none"/>
<rect x="628.1" y="288" width="6.9" height="7" fill="#fff" stroke="none"/>
<rect x="513" y="659" width="7.31" height="7" fill="#fff" stroke="none"/>
<rect x="523.83" y="659" width="7.17" height="7" fill="#fff" stroke="none"/>
<rect x="616" y="850" width="7.09" height="7" fill="#fff" stroke="none"/>
<rect x="626.6" y="850" width="7.4" height="7" fill="#fff" stroke="none"/>
<rect x="620" y="903" width="7.54" height="7" fill="#fff" stroke="none"/>
<rect x="631.06" y="903" width="6.94" height="7" fill="#fff" stroke="none"/>
<rect x="495" y="1170" width="6.9" height="7" fill="#fff" stroke="none"/>
<rect x="505.41" y="1170" width="7.59" height="7" fill="#fff" stroke="none"/>
<rect x="512" y="1170" width="6.99" height="7" fill="#fff" stroke="none"/>
<rect x="522.51" y="1170" width="7.49" height="7" fill="#fff" stroke="none"/>
<rect x="493" y="1223" width="7.58" height="7" fill="#fff" stroke="none"/>
<rect x="504.09" y="1223" width="6.91" height="7" fill="#fff" stroke="none"/>
<rect x="493" y="1270" width="7.58" height="7" fill="#fff" stroke="none"/>
<rect x="504.09" y="1270" width="6.91" height="7" fill="#fff" stroke="none"/>
<rect x="1330" y="630" width="7.71" height="7" fill="#fff" stroke="none"/>
<rect x="1341.23" y="630" width="6.77" height="7" fill="#fff" stroke="none"/>
<rect x="1311" y="1003" width="6.98" height="7" fill="#fff" stroke="none"/>
<rect x="1321.49" y="1003" width="7.51" height="7" fill="#fff" stroke="none"/>
<rect x="1311" y="1162" width="6.98" height="7" fill="#fff" stroke="none"/>
<rect x="1321.49" y="1162" width="7.51" height="7" fill="#fff" stroke="none"/>
<rect x="1311" y="1215" width="6.98" height="7" fill="#fff" stroke="none"/>
<rect x="1321.49" y="1215" width="7.51" height="7" fill="#fff" stroke="none"/>
</g>
</svg>
</body></html>
